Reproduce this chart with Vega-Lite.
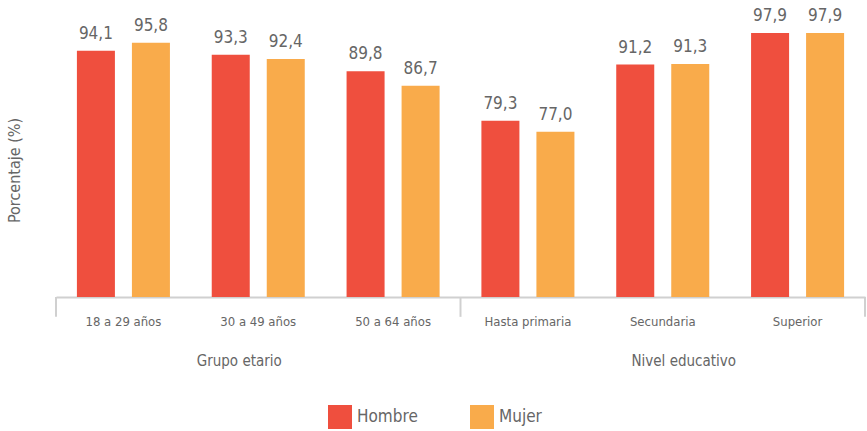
{
  "$schema": "https://vega.github.io/schema/vega-lite/v6.json",
  "width": 809,
  "height": 274,
  "autosize": {"type": "none"},
  "padding": {"left": 56, "top": 23, "right": 2, "bottom": 134},
  "background": "white",
  "config": {
    "locale": {"number": {"decimal": ",", "thousands": ".", "grouping": [3], "currency": ["", " €"]}},
    "view": {"stroke": null},
    "font": "'DejaVu Sans Condensed', 'Roboto Condensed', Roboto, sans-serif"
  },
  "datasets": {
    "bars": [
      {"categoria": "18 a 29 años", "sexo": "Hombre", "valor": 94.1},
      {"categoria": "18 a 29 años", "sexo": "Mujer", "valor": 95.8},
      {"categoria": "30 a 49 años", "sexo": "Hombre", "valor": 93.3},
      {"categoria": "30 a 49 años", "sexo": "Mujer", "valor": 92.4},
      {"categoria": "50 a 64 años", "sexo": "Hombre", "valor": 89.8},
      {"categoria": "50 a 64 años", "sexo": "Mujer", "valor": 86.7},
      {"categoria": "Hasta primaria", "sexo": "Hombre", "valor": 79.3},
      {"categoria": "Hasta primaria", "sexo": "Mujer", "valor": 77.0},
      {"categoria": "Secundaria", "sexo": "Hombre", "valor": 91.2},
      {"categoria": "Secundaria", "sexo": "Mujer", "valor": 91.3},
      {"categoria": "Superior", "sexo": "Hombre", "valor": 97.9},
      {"categoria": "Superior", "sexo": "Mujer", "valor": 97.9}
    ]
  },
  "layer": [
    {
      "data": {"name": "bars"},
      "mark": {"type": "bar"},
      "encoding": {
        "x": {
          "field": "categoria", "type": "nominal",
          "scale": {"domain": ["18 a 29 años", "30 a 49 años", "50 a 64 años", "Hasta primaria", "Secundaria", "Superior"], "paddingInner": 0, "paddingOuter": 0},
          "axis": {"title": null, "domain": true, "domainColor": "#d0d0d0", "domainWidth": 2, "ticks": false, "labelAngle": 0, "labelFontSize": 13, "labelColor": "#666666", "labelPadding": 24, "labelBaseline": "middle"}
        },
        "xOffset": {"field": "sexo", "type": "nominal", "scale": {"domain": ["Hombre", "Mujer"], "paddingInner": 0.309, "paddingOuter": 0.38}},
        "y": {
          "field": "valor", "type": "quantitative",
          "scale": {"domain": [42, 100], "zero": false, "nice": false},
          "axis": {"title": "Porcentaje (%)", "labels": false, "ticks": false, "domain": false, "grid": false, "titleFontSize": 16, "titleFontWeight": "normal", "titleColor": "#666666", "titlePadding": 34, "titleY": 147}
        },
        "y2": {"datum": 42},
        "color": {
          "field": "sexo", "type": "nominal",
          "scale": {"domain": ["Hombre", "Mujer"], "range": ["#EF4F3E", "#F9AB4B"]},
          "legend": {"title": null, "orient": "none", "legendX": 272, "legendY": 382, "direction": "horizontal", "symbolType": "square", "symbolSize": 576, "symbolStrokeWidth": 0, "labelFontSize": 17, "labelColor": "#666666", "labelOffset": 5, "columnPadding": 52, "padding": 0}
        }
      }
    },
    {
      "data": {"name": "bars"},
      "mark": {"type": "text", "baseline": "bottom", "dy": -8, "fontSize": 17, "color": "#666666"},
      "encoding": {
        "x": {"field": "categoria", "type": "nominal"},
        "xOffset": {"field": "sexo", "type": "nominal"},
        "y": {"field": "valor", "type": "quantitative"},
        "text": {"field": "valor", "type": "quantitative", "format": ".1f"}
      }
    },
    {
      "data": {"values": [{"categoria": "18 a 29 años"}, {"categoria": "Hasta primaria"}]},
      "mark": {"type": "rule", "color": "#d0d0d0", "strokeWidth": 2},
      "encoding": {
        "x": {"field": "categoria", "type": "nominal", "bandPosition": 0},
        "y": {"datum": 42},
        "y2": {"datum": 37.8}
      }
    },
    {
      "data": {"values": [{"categoria": "Superior"}]},
      "mark": {"type": "rule", "color": "#d0d0d0", "strokeWidth": 2},
      "encoding": {
        "x": {"field": "categoria", "type": "nominal", "bandPosition": 1},
        "y": {"datum": 42},
        "y2": {"datum": 37.8}
      }
    },
    {
      "data": {"values": [{"categoria": "30 a 49 años", "grupo": "Grupo etario"}]},
      "mark": {"type": "text", "baseline": "middle", "fontSize": 15, "color": "#666666", "dx": -19},
      "encoding": {
        "x": {"field": "categoria", "type": "nominal"},
        "y": {"datum": 28.45},
        "text": {"field": "grupo"}
      }
    },
    {
      "data": {"values": [{"categoria": "Secundaria", "grupo": "Nivel educativo"}]},
      "mark": {"type": "text", "baseline": "middle", "fontSize": 15, "color": "#666666", "dx": 21},
      "encoding": {
        "x": {"field": "categoria", "type": "nominal"},
        "y": {"datum": 28.45},
        "text": {"field": "grupo"}
      }
    }
  ]
}
